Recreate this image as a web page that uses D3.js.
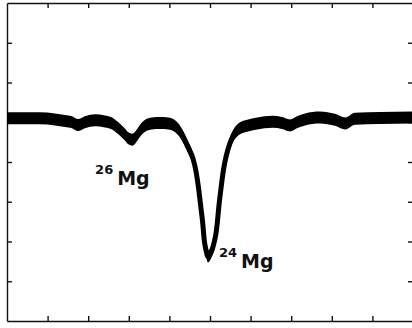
<!DOCTYPE html>
<html>
<head>
<meta charset="utf-8">
<script src="https://cdn.jsdelivr.net/npm/d3@7"></script>
<style>
  body { margin: 0; background: #fff; }
  svg { display: block; }
  .axis path, .axis line { stroke: #111; stroke-width: 1.4; }
</style>
</head>
<body>
<div class="container"></div>
<script>
// spectrum trace (channel, intensity)
const channel = [0, 3.2, 8.1, 11.8, 14.3, 16.0, 17.5, 19.2, 21.7, 24.1, 25.9, 27.3, 28.8, 30.0, 30.8, 31.8, 32.8, 34.0, 35.7, 37.7, 39.7, 41.4, 42.6, 43.6, 44.6, 45.8, 46.6, 47.2, 47.7, 48.2, 48.6, 49.0, 49.5, 50.1, 50.6, 51.0, 51.5, 51.8, 52.2, 52.7, 53.3, 53.9, 54.9, 55.9, 57.4, 59.4, 61.3, 65.5, 67.7, 69.7, 71.4, 73.4, 77.1, 80.8, 83.3, 85.7, 91.9, 100];
const intensity = [51.0, 51.0, 51.0, 50.7, 50.3, 50.0, 49.3, 50.0, 50.5, 50.2, 49.7, 48.6, 47.2, 45.9, 45.6, 46.4, 47.9, 49.1, 49.7, 49.8, 49.7, 49.0, 47.7, 45.9, 43.7, 40.9, 37.4, 33.3, 29.0, 24.7, 20.2, 17.9, 16.2, 16.9, 18.2, 19.7, 22.2, 24.7, 29.0, 33.3, 37.9, 41.1, 44.7, 46.9, 48.5, 49.2, 49.6, 50.1, 49.8, 49.2, 50.0, 50.7, 51.2, 50.6, 49.7, 50.9, 51.1, 51.2];

const xTicks = [10, 20, 30, 40, 50, 60, 70, 80, 90];
const yTicks = [10, 20, 30, 40, 50, 60, 70];

// isotope labels: mass number, element, anchor (channel, intensity)
const isotopes = ['26', '24'];
const element = ['Mg', 'Mg'];
const labelAt = [[21.7, 34.2], [52.2, 13.3]];

const width = 412;
const height = 328;

const data = channel.map((c, i) => ({ c, v: intensity[i] }));

const svg = d3
  .select('.container')
  .append('svg')
  .attr('width', width)
  .attr('height', height);

const xScale = d3.scaleLinear().domain([0, 100]).range([7, 413]);
const yScale = d3.scaleLinear().domain([0, 80]).range([321, 3]);

// frame with inward ticks on all four sides
const frame = [
  { axis: d3.axisTop(xScale).tickValues(xTicks), t: 'translate(0,3)' },
  { axis: d3.axisBottom(xScale).tickValues(xTicks), t: 'translate(0,321)' },
  { axis: d3.axisLeft(yScale).tickValues(yTicks), t: 'translate(7,0)' },
  { axis: d3.axisRight(yScale).tickValues(yTicks), t: 'translate(413,0)' }
];
frame.forEach((f) =>
  svg
    .append('g')
    .attr('class', 'axis')
    .attr('transform', f.t)
    .call(f.axis.tickSizeInner(-5).tickSizeOuter(0).tickFormat(''))
);

// noisy trace: a band plus a core line
const band = 6;
const area = d3
  .area()
  .x((d) => xScale(d.c))
  .y0((d) => yScale(d.v) - band)
  .y1((d) => yScale(d.v) + band)
  .curve(d3.curveMonotoneX);
const line = d3
  .line()
  .x((d) => xScale(d.c))
  .y((d) => yScale(d.v))
  .curve(d3.curveMonotoneX);

svg.append('path').datum(data).attr('d', area).attr('fill', '#000');
svg
  .append('path')
  .datum(data)
  .attr('d', line)
  .attr('fill', 'none')
  .attr('stroke', '#000')
  .attr('stroke-width', 5)
  .attr('stroke-linejoin', 'round');

isotopes.forEach((iso, i) => {
  const t = svg
    .append('text')
    .attr('x', xScale(labelAt[i][0]))
    .attr('y', yScale(labelAt[i][1]))
    .style('font-family', '"DejaVu Sans", sans-serif')
    .style('font-weight', 'bold')
    .attr('fill', '#111');
  t.append('tspan').attr('dy', -11).style('font-size', '13px').text(iso);
  t.append('tspan').attr('dx', 4).attr('dy', 11).style('font-size', '19px').text(element[i]);
});
</script>
</body>
</html>
